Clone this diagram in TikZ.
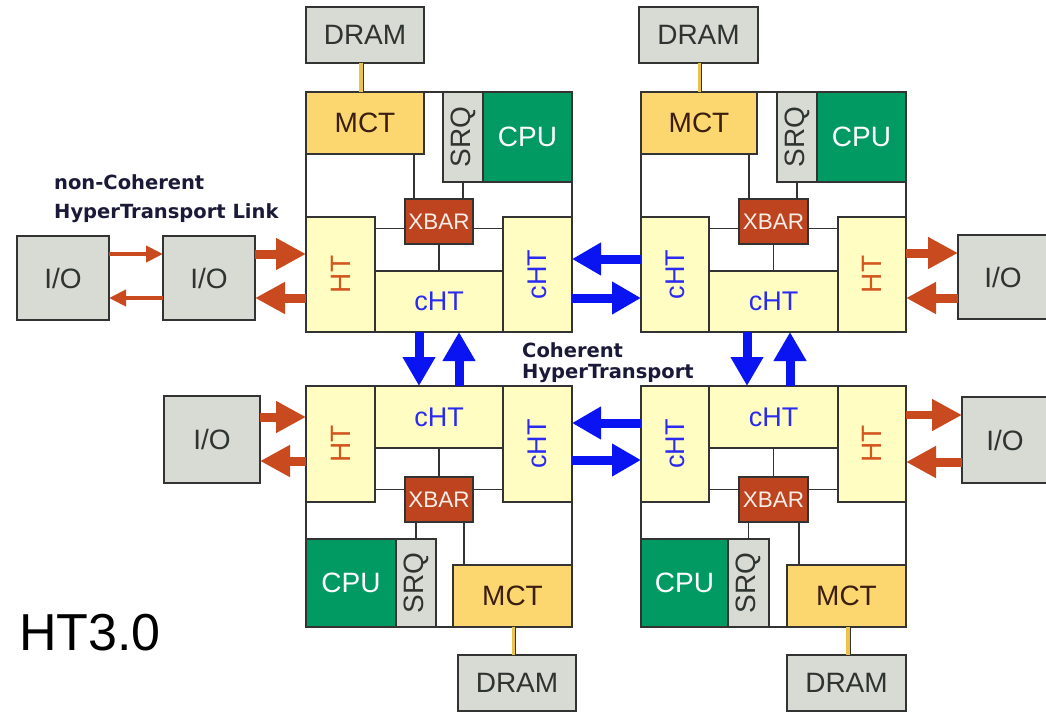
\documentclass[tikz,border=0pt]{standalone}
\usepackage{fontspec}
\usepackage{graphicx}
\setmainfont{Liberation Sans}
\newfontfamily\lblfont{DejaVu Sans}
\usetikzlibrary{arrows.meta}
\definecolor{grayfill}{HTML}{D8DAD4}
\definecolor{mctfill}{HTML}{FCD66E}
\definecolor{htfill}{HTML}{FFFDC2}
\definecolor{cpufill}{HTML}{009A62}
\definecolor{xbarfill}{HTML}{BE4420}
\definecolor{edge}{HTML}{333333}
\definecolor{blu}{HTML}{0A14F2}
\definecolor{org}{HTML}{C94A1E}
\definecolor{htcol}{HTML}{D2561E}
\definecolor{chtcol}{HTML}{2A2AF0}
\definecolor{lblcol}{HTML}{1A1A38}
\definecolor{wirey}{HTML}{EBC24A}
\definecolor{darktext}{HTML}{2E3531}
\definecolor{mcttext}{HTML}{3A1E10}
\definecolor{xbartext}{HTML}{F8EEE8}
\newcommand\mybox[7]{\node[#1,minimum width={(#4-#2)*1pt},minimum height={(#5-#3)*1pt}] (#6) at ({(#2+#4)/2},{(#3+#5)/2}) {#7};}
\newcommand\rt[1]{\rotatebox{90}{#1}}
\begin{document}
\begin{tikzpicture}[x=1pt,y=-1pt,
  blk/.style={draw=edge,line width=1.6pt,inner sep=0pt,outer sep=0pt,font=\fontsize{28}{30}\selectfont},
  frame/.style={blk,fill=white},
  graybox/.style={blk,fill=grayfill,text=darktext},
  mctbox/.style={blk,fill=mctfill,text=mcttext},
  cpubox/.style={blk,fill=cpufill,text=white},
  srqbox/.style={blk,fill=grayfill,text=darktext},
  xbarbox/.style={blk,fill=xbarfill,text=xbartext,font=\fontsize{22.5}{24}\selectfont},
  htbox/.style={blk,fill=htfill,text=htcol},
  chtbox/.style={blk,fill=htfill,text=chtcol,font=\fontsize{27}{29}\selectfont},
  wire/.style={draw=edge,line width=1.4pt},
  ywire/.style={draw=wirey,line width=3.5pt},
  bigblue/.style={draw=blu,line width=9pt,-{Triangle[length=29pt,width=31pt]}},
  bigorg/.style={draw=org,line width=9pt,-{Triangle[length=30pt,width=30pt]}},
  smallorg/.style={draw=org,line width=4pt,-{Triangle[length=17pt,width=16pt]}},
  lbl/.style={inner sep=0pt,anchor=base west,text=lblcol,font=\lblfont\bfseries\fontsize{19.5}{21}\selectfont}
]
\useasboundingbox (0,0) rectangle (1046,712);
\fill[white] (0,0) rectangle (1046,712);

% ---------- top-left node ----------
\mybox{graybox}{306}{7}{424}{63}{tl-dram}{DRAM}
\mybox{frame}{306}{92}{572}{332}{tl}{}
\mybox{mctbox}{306}{92}{424}{154}{tl-mct}{MCT}
\mybox{srqbox}{443}{92}{483}{182}{tl-srq}{\rt{SRQ}}
\mybox{cpubox}{483}{92}{572}{182}{tl-cpu}{CPU}
\mybox{xbarbox}{405}{199}{473}{244}{tl-xbar}{XBAR}
\mybox{htbox}{306}{217}{375}{332}{tl-ht}{\rt{HT}}
\mybox{chtbox}{503}{217}{572}{332}{tl-chtr}{\rt{cHT}}
\mybox{chtbox}{375}{271}{503}{332}{tl-chtb}{cHT}
\draw[ywire] ([xshift=-4pt]tl-dram.south) -- ([xshift=-4pt]tl-dram.south |- tl-mct.north);
\draw[wire,line width=1pt] ([xshift=-2pt]tl-dram.south) -- ([xshift=-2pt]tl-dram.south |- tl-mct.north);
\draw[wire] ([xshift=-25pt]tl-xbar.north) -- ([xshift=-25pt]tl-xbar.north |- tl-mct.south);
\draw[wire] (tl-srq.south) -- (tl-srq.south |- tl-xbar.north);
\draw[wire] ([yshift=-7pt]tl-xbar.west) -- ([yshift=-7pt]tl-xbar.west -| tl-ht.east);
\draw[wire] ([yshift=-7pt]tl-xbar.east) -- ([yshift=-7pt]tl-xbar.east -| tl-chtr.west);
\draw[wire] (tl-xbar.south) -- (tl-xbar.south |- tl-chtb.north);

% ---------- top-right node ----------
\mybox{graybox}{639}{7}{758}{63}{tr-dram}{DRAM}
\mybox{frame}{641}{92}{906}{332}{tr}{}
\mybox{mctbox}{641}{92}{757}{154}{tr-mct}{MCT}
\mybox{srqbox}{777}{92}{817}{182}{tr-srq}{\rt{SRQ}}
\mybox{cpubox}{817}{92}{906}{182}{tr-cpu}{CPU}
\mybox{xbarbox}{739}{199}{808}{244}{tr-xbar}{XBAR}
\mybox{chtbox}{641}{217}{709}{332}{tr-chtl}{\rt{cHT}}
\mybox{htbox}{838}{217}{906}{332}{tr-ht}{\rt{HT}}
\mybox{chtbox}{709}{271}{838}{332}{tr-chtb}{cHT}
\draw[ywire] ([xshift=1pt]tr-dram.south) -- ([xshift=1pt]tr-dram.south |- tr-mct.north);
\draw[wire,line width=1pt] ([xshift=3pt]tr-dram.south) -- ([xshift=3pt]tr-dram.south |- tr-mct.north);
\draw[wire] ([xshift=-24.5pt]tr-xbar.north) -- ([xshift=-24.5pt]tr-xbar.north |- tr-mct.south);
\draw[wire] (tr-srq.south) -- (tr-srq.south |- tr-xbar.north);
\draw[wire] ([yshift=-7pt]tr-xbar.west) -- ([yshift=-7pt]tr-xbar.west -| tr-chtl.east);
\draw[wire] ([yshift=-7pt]tr-xbar.east) -- ([yshift=-7pt]tr-xbar.east -| tr-ht.west);
\draw[wire] (tr-xbar.south) -- (tr-xbar.south |- tr-chtb.north);

% ---------- bottom-left node ----------
\mybox{frame}{306}{386}{572}{627}{bl}{}
\mybox{htbox}{306}{386}{375}{502}{bl-ht}{\rt{HT}}
\mybox{chtbox}{503}{386}{572}{502}{bl-chtr}{\rt{cHT}}
\mybox{chtbox}{375}{386}{503}{448}{bl-chtt}{cHT}
\mybox{xbarbox}{405}{477}{473}{522}{bl-xbar}{XBAR}
\mybox{cpubox}{306}{539}{396}{627}{bl-cpu}{CPU}
\mybox{srqbox}{396}{539}{436}{627}{bl-srq}{\rt{SRQ}}
\mybox{mctbox}{453}{565}{572}{627}{bl-mct}{MCT}
\mybox{graybox}{458}{655}{576}{711}{bl-dram}{DRAM}
\draw[wire] (bl-chtt.south) -- (bl-chtt.south |- bl-xbar.north);
\draw[wire] ([yshift=10pt]bl-xbar.west) -- ([yshift=10pt]bl-xbar.west -| bl-ht.east);
\draw[wire] ([yshift=10pt]bl-xbar.east) -- ([yshift=10pt]bl-xbar.east -| bl-chtr.west);
\draw[wire] (bl-srq.north) -- (bl-srq.north |- bl-xbar.south);
\draw[wire] ([xshift=25pt]bl-xbar.south) -- ([xshift=25pt]bl-xbar.south |- bl-mct.north);
\draw[ywire] ([xshift=1pt]bl-mct.south) -- ([xshift=1pt]bl-mct.south |- bl-dram.north);
\draw[wire,line width=1pt] ([xshift=3pt]bl-mct.south) -- ([xshift=3pt]bl-mct.south |- bl-dram.north);

% ---------- bottom-right node ----------
\mybox{frame}{641}{386}{906}{627}{br}{}
\mybox{chtbox}{641}{386}{709}{502}{br-chtl}{\rt{cHT}}
\mybox{htbox}{838}{386}{906}{502}{br-ht}{\rt{HT}}
\mybox{chtbox}{709}{386}{838}{448}{br-chtt}{cHT}
\mybox{xbarbox}{739}{477}{808}{522}{br-xbar}{XBAR}
\mybox{cpubox}{641}{539}{728}{627}{br-cpu}{CPU}
\mybox{srqbox}{728}{539}{769}{627}{br-srq}{\rt{SRQ}}
\mybox{mctbox}{787}{565}{906}{627}{br-mct}{MCT}
\mybox{graybox}{787}{655}{906}{711}{br-dram}{DRAM}
\draw[wire] (br-chtt.south) -- (br-chtt.south |- br-xbar.north);
\draw[wire] ([yshift=10pt]br-xbar.west) -- ([yshift=10pt]br-xbar.west -| br-chtl.east);
\draw[wire] ([yshift=10pt]br-xbar.east) -- ([yshift=10pt]br-xbar.east -| br-ht.west);
\draw[wire] (br-srq.north) -- (br-srq.north |- br-xbar.south);
\draw[wire] ([xshift=25.5pt]br-xbar.south) -- ([xshift=25.5pt]br-xbar.south |- br-mct.north);
\draw[ywire] ([xshift=1.5pt]br-mct.south) -- ([xshift=1.5pt]br-mct.south |- br-dram.north);
\draw[wire,line width=1pt] ([xshift=3.5pt]br-mct.south) -- ([xshift=3.5pt]br-mct.south |- br-dram.north);

% ---------- I/O boxes ----------
\mybox{graybox}{17}{236}{109}{320}{io1}{I/O}
\mybox{graybox}{163}{236}{255}{320}{io2}{I/O}
\mybox{graybox}{164}{396}{260}{483}{io3}{I/O}
\mybox{graybox}{958}{235}{1048}{319}{io4}{I/O}
\mybox{graybox}{962}{397}{1048}{483}{io5}{I/O}

% ---------- orange (non-coherent) arrows ----------
\draw[smallorg] ([yshift=24pt]io1.east) -- ([yshift=24pt]io1.east -| io2.west);
\draw[smallorg] ([yshift=-20pt]io1.east -| io2.west) -- ([yshift=-20pt]io1.east);
\draw[bigorg] ([yshift=24pt]io2.east) -- ([yshift=24pt]io2.east -| tl-ht.west);
\draw[bigorg] ([yshift=-20pt]io2.east -| tl-ht.west) -- ([yshift=-20pt]io2.east);
\draw[bigorg] ([yshift=22.5pt]io3.east) -- ([yshift=22.5pt]io3.east -| bl-ht.west);
\draw[bigorg] ([yshift=-21.5pt]io3.east -| bl-ht.west) -- ([yshift=-21.5pt]io3.east);
\draw[bigorg] ([yshift=24pt]io4.west -| tr-ht.east) -- ([yshift=24pt]io4.west);
\draw[bigorg] ([yshift=-21pt]io4.west) -- ([yshift=-21pt]io4.west -| tr-ht.east);
\draw[bigorg,line width=7.5pt] ([yshift=25pt]io5.west -| br-ht.east) -- ([yshift=25pt]io5.west);
\draw[bigorg] ([yshift=-22pt]io5.west) -- ([yshift=-22pt]io5.west -| br-ht.east);

% ---------- blue (coherent) arrows ----------
\draw[bigblue] ([yshift=15.5pt]tl-chtr.east -| tr-chtl.west) -- ([yshift=15.5pt]tl-chtr.east);
\draw[bigblue] ([yshift=-23.5pt]tl-chtr.east) -- ([yshift=-23.5pt]tl-chtr.east -| tr-chtl.west);
\draw[bigblue] ([yshift=21pt]bl-chtr.east -| br-chtl.west) -- ([yshift=21pt]bl-chtr.east);
\draw[bigblue] ([yshift=-16pt]bl-chtr.east) -- ([yshift=-16pt]bl-chtr.east -| br-chtl.west);
\draw[bigblue] ([xshift=-20pt]tl-chtb.south) -- ([xshift=-20pt]tl-chtb.south |- bl-chtt.north);
\draw[bigblue] ([xshift=20pt]tl-chtb.south |- bl-chtt.north) -- ([xshift=20pt]tl-chtb.south);
\draw[bigblue] ([xshift=-26.5pt]tr-chtb.south) -- ([xshift=-26.5pt]tr-chtb.south |- br-chtt.north);
\draw[bigblue] ([xshift=16.5pt]tr-chtb.south |- br-chtt.north) -- ([xshift=16.5pt]tr-chtb.south);

% ---------- labels ----------
\node[lbl] (lbl-nc1) at (54,189) {non-Coherent};
\node[lbl] (lbl-nc2) at (54,218) {HyperTransport Link};
\node[lbl] (lbl-c1) at (522,357) {Coherent};
\node[lbl] (lbl-c2) at (522,378) {HyperTransport};
\node[inner sep=0pt,anchor=base west,font=\fontsize{52}{54}\selectfont] (title) at (19,650) {HT3.0};
\end{tikzpicture}
\end{document}
